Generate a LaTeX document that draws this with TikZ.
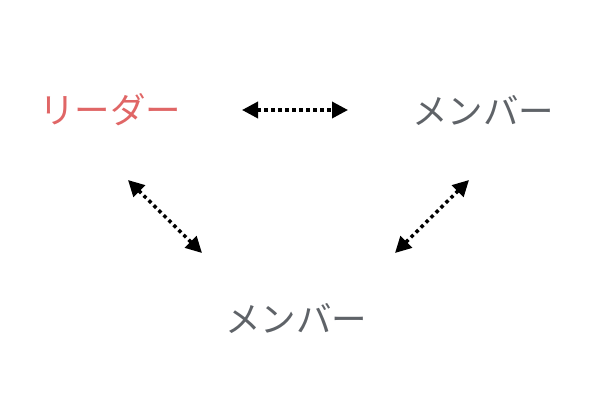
\documentclass[tikz,border=0pt]{standalone}
\usepackage{fontspec}
\newfontfamily\jpfont{Noto Sans CJK JP}
\usetikzlibrary{arrows.meta}
\definecolor{leaderred}{HTML}{E06666}
\definecolor{membergray}{HTML}{5F6368}
\begin{document}
\begin{tikzpicture}[x=1pt,y=-1pt,
  role/.style={inner sep=0pt,font=\jpfont\fontsize{35.5}{42}\selectfont},
  link/.style={line width=3.5pt,dash pattern=on 3.5pt off 3.5pt,
    {Triangle[length=16pt,width=16pt]}-{Triangle[length=16pt,width=16pt]}}]
\useasboundingbox (0,0) rectangle (600,400);
%roles
\node[role,text=leaderred] (leader) at (110,110) {リーダー};
\node[role,text=membergray] (memberA) at (483,110) {メンバー};
\node[role,text=membergray] (memberB) at (296,318) {メンバー};
%ends
\coordinate (la) at (242,110);
\coordinate (ma) at (348,110);
\coordinate (lb) at (128,180);
\coordinate (bl) at (202,253);
\coordinate (ab) at (469,180);
\coordinate (ba) at (395,253);
%links
\draw[link] (la)--(ma);
\draw[link] (lb)--(bl);
\draw[link] (ab)--(ba);
\end{tikzpicture}
\end{document}
